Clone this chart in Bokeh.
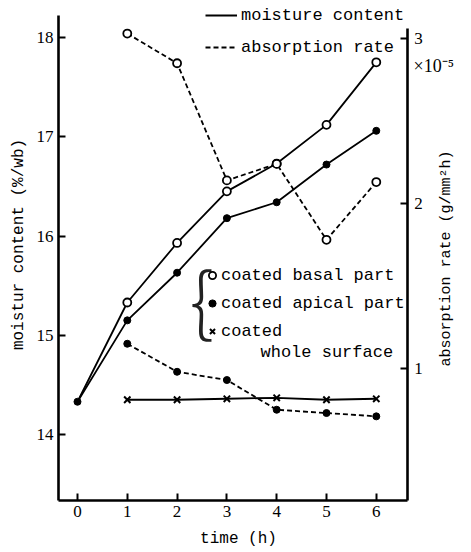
import numpy as np
from bokeh.plotting import figure
from bokeh.models import (LinearAxis, Range1d, FixedTicker, Legend, LegendItem, Label)
from bokeh.embed import file_html
from bokeh.resources import INLINE

# ---- data ----
time_h = [0, 1, 2, 3, 4, 5, 6]
basal_moist = [14.33, 15.33, 15.93, 16.45, 16.73, 17.12, 17.75]
apical_moist = [14.33, 15.15, 15.63, 16.18, 16.34, 16.72, 17.06]
whole_time = [1, 2, 3, 4, 5, 6]
whole_moist = [14.35, 14.35, 14.36, 14.37, 14.35, 14.36]
abs_time = [1, 2, 3, 4, 5, 6]
basal_abs = [3.03, 2.85, 2.14, 2.24, 1.78, 2.13]
apical_abs = [1.15, 0.98, 0.93, 0.75, 0.73, 0.71]
x_ticks = [0, 1, 2, 3, 4, 5, 6]
left_ticks = [14, 15, 16, 17, 18]
right_ticks = [1, 2, 3]

# axis extents (data units)
X_MIN, X_MAX = -0.38, 6.62
M_MIN, M_MAX = 13.335, 18.22
A_MIN, A_MAX = 0.2, 3.06

MONO = "Liberation Mono"
SERIF = "Liberation Serif"

W, H = 471, 552
p = figure(width=W, height=H, x_range=Range1d(-1.546, 7.912),
           y_range=Range1d(12.811, 18.373), output_backend="svg",
           toolbar_location=None, min_border=0)
p.extra_y_ranges = {"abs": Range1d(-0.1152, 3.2303)}
p.outline_line_color = None
p.grid.visible = False
p.background_fill_color = "white"
p.border_fill_color = "white"

def style_axis(ax, ticks):
    ax.ticker = FixedTicker(ticks=ticks)
    ax.axis_line_width = 2.6
    ax.axis_line_color = "black"
    ax.major_tick_in = 7
    ax.major_tick_out = 0
    ax.major_tick_line_width = 2
    ax.minor_tick_line_color = None
    ax.major_label_text_font = SERIF
    ax.major_label_text_font_size = "17px"
    ax.major_label_text_color = "black"

xa = p.xaxis[0]
style_axis(xa, x_ticks)
xa.fixed_location = M_MIN
xa.bounds = (X_MIN, X_MAX)
xa.major_label_standoff = 6

ya = p.yaxis[0]
style_axis(ya, left_ticks)
ya.fixed_location = X_MIN
ya.bounds = (M_MIN, M_MAX)
ya.major_label_standoff = 5

ra = LinearAxis(y_range_name="abs", fixed_location=X_MAX, bounds=(A_MIN, A_MAX))
style_axis(ra, right_ticks)
ra.major_label_standoff = 7
p.add_layout(ra, "right")

LW = 1.8
DASH = "5 3"
# moisture content (solid)
l_basal = p.line(time_h, basal_moist, line_color="black", line_width=LW)
l_apical = p.line(time_h, apical_moist, line_color="black", line_width=LW)
l_whole = p.line(whole_time, whole_moist, line_color="black", line_width=LW)
# absorption rate (dashed)
d_basal = p.line(abs_time, basal_abs, y_range_name="abs", line_color="black",
                 line_width=LW, line_dash=DASH)
d_apical = p.line(abs_time, apical_abs, y_range_name="abs", line_color="black",
                  line_width=LW, line_dash=DASH)

# markers
m_basal = p.scatter(time_h[1:], basal_moist[1:], marker="circle", size=8,
                    line_color="black", line_width=1.8, fill_color="white")
m_apical = p.scatter(time_h, apical_moist, marker="circle", size=7,
                     line_color="black", fill_color="black")
m_whole = p.scatter(whole_time, whole_moist, marker="x", size=9,
                    line_color="black", line_width=2)
p.scatter(abs_time, basal_abs, y_range_name="abs", marker="circle", size=8,
          line_color="black", line_width=1.8, fill_color="white")
p.scatter(abs_time, apical_abs, y_range_name="abs", marker="circle", size=7,
          line_color="black", fill_color="black")

# legends
leg_lines = Legend(items=[LegendItem(label="moisture content", renderers=[l_basal]),
                          LegendItem(label="absorption rate", renderers=[d_basal])],
                   location=(205, 495), glyph_width=32, glyph_height=20,
                   label_height=20, spacing=12, label_standoff=4, padding=0,
                   margin=0, border_line_color=None, background_fill_alpha=0,
                   label_text_font=MONO, label_text_font_size="17px",
                   label_text_color="black")
leg_marks = Legend(items=[LegendItem(label="coated basal part", renderers=[m_basal]),
                          LegendItem(label="coated apical part", renderers=[m_apical]),
                          LegendItem(label="coated", renderers=[m_whole])],
                   location=(203, 211), glyph_width=18, glyph_height=20,
                   label_height=20, spacing=8, label_standoff=0, padding=0,
                   margin=0, border_line_color=None, background_fill_alpha=0,
                   label_text_font=MONO, label_text_font_size="17px",
                   label_text_color="black")
p.add_layout(leg_lines)
p.add_layout(leg_marks)

def text_label(x, y, text, font=MONO, size="16px", angle=0.0, align="left",
               color="black"):
    p.add_layout(Label(x=x, y=y, x_units="screen", y_units="screen", text=text,
                       text_font=font, text_font_size=size, angle=angle,
                       text_align=align, text_baseline="middle",
                       text_color=color))

text_label(260, 200, "whole surface", size="17px")
text_label(201, 257, "{", font="Noto Sans CJK JP Light, Liberation Serif",
           size="76px", align="center", color="#222222")
text_label(413, 487, "×10⁻⁵", font=SERIF, size="18px")
text_label(18, 308, "moistur content (%/wb)", angle=np.pi / 2, align="center")
text_label(446, 294, "absorption rate (g/mm²h)", size="15px", angle=np.pi / 2,
           align="center")
text_label(238, 14, "time (h)", align="center")

open("out.html", "w").write(file_html(p, INLINE))
